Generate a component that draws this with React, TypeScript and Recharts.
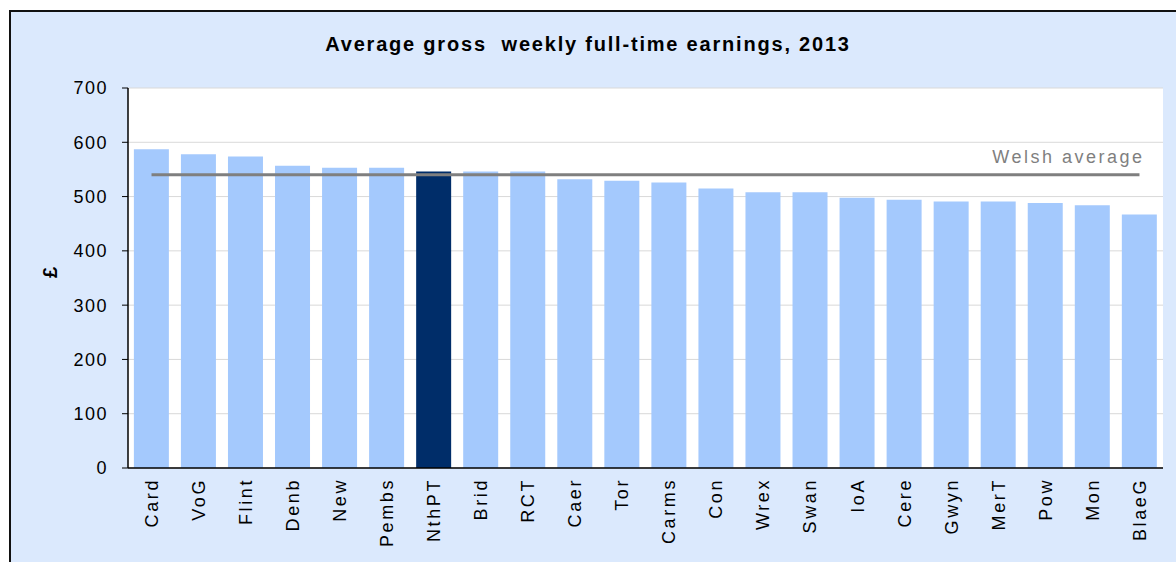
import React from "react";
import {
  ComposedChart,
  Bar,
  Line,
  Cell,
  XAxis,
  YAxis,
  CartesianGrid,
  LabelList,
} from "recharts";

// Local authority short names, ordered as in the chart
const areas = [
  "Card", "VoG", "Flint", "Denb", "New", "Pembs", "NthPT", "Brid", "RCT", "Caer", "Tor",
  "Carms", "Con", "Wrex", "Swan", "IoA", "Cere", "Gwyn", "MerT", "Pow", "Mon", "BlaeG",
];

// Average gross weekly full-time earnings (£), 2013
const earnings = [
  587, 578, 574, 557, 553, 553, 546, 546, 546, 532, 529,
  526, 515, 508, 508, 498, 494, 491, 491, 488, 484, 467,
];

const welshAverage = 540;
const highlighted = "NthPT";
const yTicks = [0, 100, 200, 300, 400, 500, 600, 700];

const data = areas.map((name, i) => ({ name, value: earnings[i], avg: welshAverage }));

const FONT = "'Liberation Sans', Arial, sans-serif";

const XTick = ({ x, y, payload }: any) => (
  <g transform={`translate(${x},${y})`}>
    <text
      transform="rotate(-90)"
      textAnchor="end"
      dy="0.35em"
      x={0}
      fontFamily={FONT}
      fontSize={18}
      letterSpacing={2.6}
      fill="#000"
    >
      {payload.value}
    </text>
  </g>
);

const renderAvgLabel = (props: any) => {
  const { x, y, index } = props;
  if (index !== areas.length - 1) return null;
  return (
    <text
      x={x + 5}
      y={y - 12}
      textAnchor="end"
      fontFamily={FONT}
      fontSize={18}
      letterSpacing={2.5}
      fill="#7f7f7f"
    >
      Welsh average
    </text>
  );
};

export default function App() {
  return (
    <div style={{ position: "fixed", inset: 0, overflow: "hidden", background: "#fff" }}>
      <div
        style={{
          position: "absolute",
          left: 9,
          top: 10,
          width: 1300,
          height: 700,
          border: "2px solid #111",
          background: "#dbe9fd",
        }}
      />
      <div
        style={{
          position: "absolute",
          left: 0,
          top: 33,
          width: 1176,
          textAlign: "center",
          fontFamily: FONT,
          fontWeight: "bold",
          fontSize: 20,
          letterSpacing: 1.8,
          whiteSpace: "pre",
          color: "#000",
        }}
      >
        Average gross  weekly full-time earnings, 2013
      </div>
      <div style={{ position: "absolute", left: 0, top: 0 }}>
        <ComposedChart
          width={1176}
          height={562}
          data={data}
          margin={{ top: 88, right: 13, bottom: 0, left: 0 }}
          barCategoryGap="12.5%"
        >
          <CartesianGrid vertical={false} stroke="#d9d9d9" fill="#ffffff" fillOpacity={1} />
          <XAxis
            dataKey="name"
            interval={0}
            height={94}
            axisLine={{ stroke: "#000", strokeWidth: 1.5 }}
            tickLine={false}
            tick={<XTick />}
            tickMargin={4}
          />
          <YAxis
            domain={[0, 700]}
            ticks={yTicks}
            width={128}
            axisLine={{ stroke: "#000", strokeWidth: 1.5 }}
            tickLine={{ stroke: "#000" }}
            tickSize={6}
            tickMargin={14}
            tick={{ fontFamily: FONT, fontSize: 18, fill: "#000", letterSpacing: 1.5 }}
            label={{
              value: "£",
              angle: -90,
              position: "insideLeft",
              offset: 50,
              style: { fontFamily: FONT, fontSize: 20, fontWeight: "bold", fill: "#000" },
            }}
          />
          <YAxis
            yAxisId="frame"
            orientation="right"
            width={0}
            tick={false}
            tickLine={false}
            axisLine={{ stroke: "#8c8c8c" }}
          />
          <XAxis
            xAxisId="frame"
            orientation="top"
            height={0}
            tick={false}
            tickLine={false}
            axisLine={{ stroke: "#8c8c8c" }}
          />
          <Bar dataKey="value" isAnimationActive={false}>
            {data.map((d) => (
              <Cell key={d.name} fill={d.name === highlighted ? "#002d69" : "#a4c9fd"} />
            ))}
          </Bar>
          <Line
            dataKey="avg"
            stroke="#7f7f7f"
            strokeWidth={3}
            dot={false}
            activeDot={false}
            isAnimationActive={false}
          >
            <LabelList dataKey="avg" content={renderAvgLabel} />
          </Line>
        </ComposedChart>
      </div>
    </div>
  );
}
